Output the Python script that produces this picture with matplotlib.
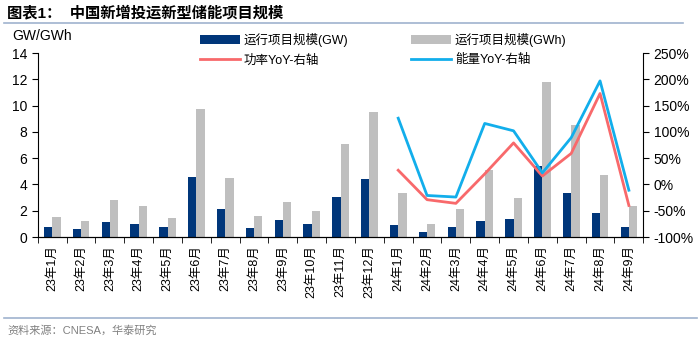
import numpy as np
from matplotlib import pyplot as plt

plt.rcParams['font.family'] = ['Liberation Sans', 'Noto Sans CJK SC', 'DejaVu Sans']

# months
months = ['23年1月', '23年2月', '23年3月', '23年4月', '23年5月', '23年6月', '23年7月',
          '23年8月', '23年9月', '23年10月', '23年11月', '23年12月', '24年1月', '24年2月',
          '24年3月', '24年4月', '24年5月', '24年6月', '24年7月', '24年8月', '24年9月']

# running project scale
gw = [0.73, 0.58, 1.16, 1.01, 0.76, 4.58, 2.13, 0.66, 1.27, 0.99, 3.06, 4.38,
      0.91, 0.41, 0.76, 1.22, 1.34, 5.37, 3.37, 1.82, 0.78]
gwh = [1.49, 1.21, 2.78, 2.35, 1.44, 9.75, 4.48, 1.57, 2.66, 2.0, 7.04, 9.52,
       3.37, 0.96, 2.15, 5.11, 2.96, 11.77, 8.53, 4.73, 2.35]

# YoY (%), 2024 only
yoy_months = months[12:]
power_yoy = [27, -29, -36, 20, 79, 16, 59, 173, -40]
energy_yoy = [126, -21, -24, 116, 102, 22, 89, 197, -11]

navy = '#00367A'
grey = '#BFBFBF'
red = '#F8696B'
blue = '#12AEEB'

fig = plt.figure(figsize=(7, 3.42), dpi=100)
ax = fig.add_axes([0.054, 0.307, 0.865, 0.538])
x = np.arange(len(months))
w = 0.29
b1 = ax.bar(x - w/2, gw, w, color=navy)
b2 = ax.bar(x + w/2, gwh, w, color=grey)
ax.set_ylim(0, 14)
ax.set_yticks(range(0, 15, 2))
ax.set_xlim(-0.5, len(months) - 0.5)
ax.set_xticks(x)
ax.set_xticklabels(months, rotation=90, fontsize=9)
ax.set_xticks(np.arange(-0.5, len(months), 1), minor=True)
ax.tick_params(axis='x', which='major', length=0, pad=6)
ax.tick_params(axis='x', which='minor', length=4, direction='out')
ax.tick_params(axis='y', labelsize=10, direction='out', length=4)
for s in ['top', 'right']:
    ax.spines[s].set_visible(False)

ax2 = ax.twinx()
xi = [months.index(m) for m in yoy_months]
l1, = ax2.plot(xi, power_yoy, color=red, lw=2)
l2, = ax2.plot(xi, energy_yoy, color=blue, lw=2)
ax2.set_ylim(-100, 250)
ax2.set_yticks(range(-100, 251, 50))
ax2.set_yticklabels([f'{v}%' for v in range(-100, 251, 50)])
ax2.tick_params(axis='y', labelsize=10, direction='out', length=4)
for s in ['top', 'left']:
    ax2.spines[s].set_visible(False)

fig.text(0.017, 0.895, 'GW/GWh', fontsize=10, ha='left', va='center')

# legend: row 1 bars, row 2 lines
fig.legend([b1, l1, b2, l2], ['运行项目规模(GW)', '功率YoY-右轴', '运行项目规模(GWh)', '能量YoY-右轴'],
           loc='upper left', bbox_to_anchor=(0.27, 0.937), ncol=2, frameon=False,
           fontsize=9, columnspacing=5.0, handlelength=3.2, handletextpad=0.3, labelspacing=0.6)

# title and source
fig.text(0.01, 0.962, '图表1：  中国新增投运新型储能项目规模', fontsize=11, fontweight='bold',
         ha='left', va='center')
fig.add_artist(plt.Line2D([0.005, 0.975], [0.932, 0.932], color='#9FB3CE', lw=1.2))
fig.add_artist(plt.Line2D([0.005, 0.995], [0.07, 0.07], color='#9FB3CE', lw=1.2))
fig.text(0.01, 0.035, '资料来源：CNESA，华泰研究', fontsize=8, color='#808080', ha='left', va='center')

plt.savefig('out.png')
